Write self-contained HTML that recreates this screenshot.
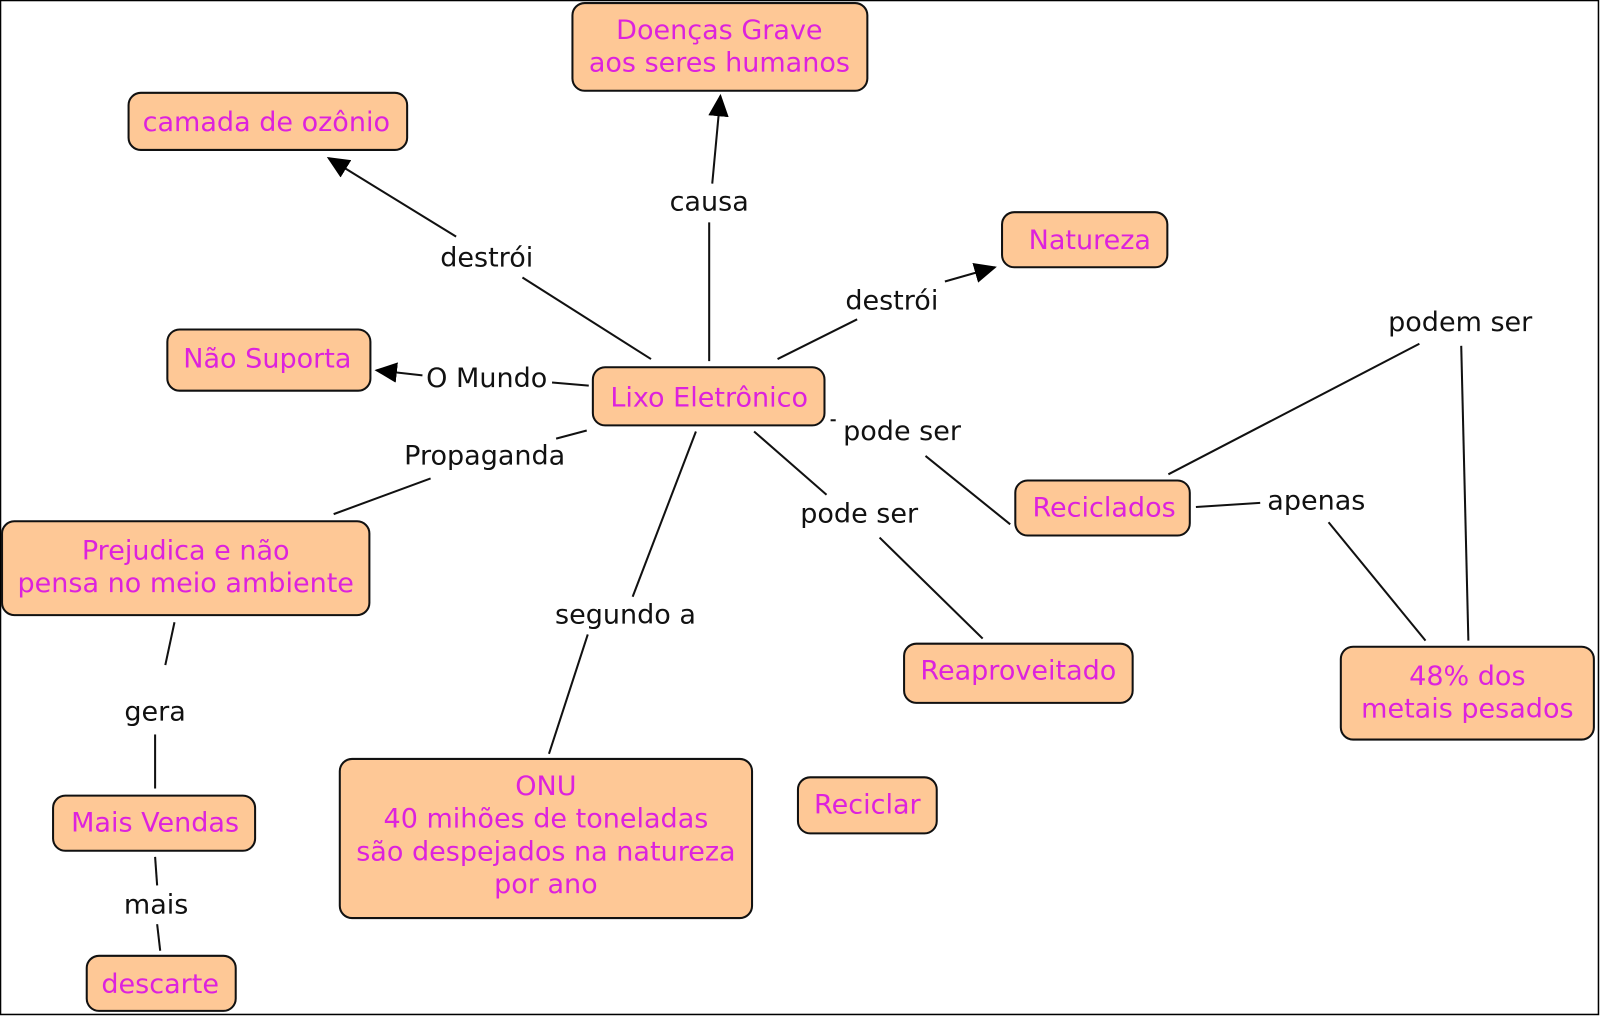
<!DOCTYPE html>
<html><head><meta charset="utf-8"><style>
html,body{margin:0;padding:0;background:#fff;}
svg{display:block;}
text{font-family:"DejaVu Sans","Liberation Sans",sans-serif;font-size:26.5px;text-anchor:middle;dominant-baseline:central;}
.n{fill:#dd22dd;}
.l{fill:#111;}
rect{fill:#fec896;stroke:#111;stroke-width:2;}
line{stroke:#111;stroke-width:2;}
</style></head><body>
<svg width="1600" height="1016" viewBox="0 0 1568 996" preserveAspectRatio="none" xmlns="http://www.w3.org/2000/svg">
<defs>
<marker id="b" markerWidth="22" markerHeight="20" refX="20" refY="10" orient="auto" markerUnits="userSpaceOnUse"><path d="M0,0 L22,10 L0,20 z" fill="#000"/></marker></defs>
<rect x="0.5" y="0.5" width="1566" height="994" style="fill:none;stroke:#000;stroke-width:1.5" rx="0"/>
<line x1="695" y1="354" x2="695" y2="218"/>
<line x1="698" y1="180" x2="706" y2="94" marker-end="url(#b)"/>
<line x1="638" y1="352" x2="512" y2="272"/>
<line x1="447" y1="232" x2="322" y2="155" marker-end="url(#b)"/>
<line x1="762" y1="352" x2="840" y2="313"/>
<line x1="926" y1="276" x2="975" y2="262" marker-end="url(#b)"/>
<line x1="577" y1="378" x2="541" y2="375"/>
<line x1="414" y1="368" x2="369" y2="363" marker-end="url(#b)"/>
<line x1="575" y1="422" x2="545" y2="430"/>
<line x1="422" y1="469" x2="327" y2="504"/>
<line x1="814" y1="412" x2="819" y2="412"/>
<line x1="907" y1="447" x2="990" y2="514"/>
<line x1="739" y1="423" x2="810" y2="485"/>
<line x1="862" y1="527" x2="963" y2="626"/>
<line x1="682" y1="423" x2="620" y2="585"/>
<line x1="576" y1="622" x2="538" y2="739"/>
<line x1="1391" y1="337" x2="1145" y2="465"/>
<line x1="1432" y1="339" x2="1439" y2="628"/>
<line x1="1172" y1="497" x2="1235" y2="493"/>
<line x1="1302" y1="512" x2="1397" y2="628"/>
<line x1="171" y1="610" x2="162" y2="652"/>
<line x1="152" y1="720" x2="152" y2="773"/>
<line x1="152" y1="840" x2="154" y2="868"/>
<line x1="154" y1="906" x2="157" y2="932"/>
<rect x="561" y="3" width="289" height="86" rx="12"/>
<text class="n" x="705" y="30">Doenças Grave</text><text class="n" x="705" y="62">aos seres humanos</text>
<rect x="126" y="91" width="273" height="56" rx="12"/><text class="n" x="261" y="120">camada de ozônio</text>
<rect x="982" y="208" width="162" height="54" rx="12"/><text class="n" x="1068" y="236">Natureza</text>
<rect x="164" y="323" width="199" height="60" rx="12"/><text class="n" x="262" y="352">Não Suporta</text>
<rect x="581" y="360" width="227" height="57" rx="12"/><text class="n" x="695" y="390">Lixo Eletrônico</text>
<rect x="995" y="471" width="171" height="54" rx="12"/><text class="n" x="1082" y="498">Reciclados</text>
<rect x="2" y="511" width="360" height="92" rx="12"/>
<text class="n" x="182" y="540">Prejudica e não</text><text class="n" x="182" y="572">pensa no meio ambiente</text>
<rect x="886" y="631" width="224" height="58" rx="12"/><text class="n" x="998" y="658">Reaproveitado</text>
<rect x="1314" y="634" width="248" height="91" rx="12"/>
<text class="n" x="1438" y="663">48% dos</text><text class="n" x="1438" y="695">metais pesados</text>
<rect x="333" y="744" width="404" height="156" rx="12"/>
<text class="n" x="535" y="771">ONU</text><text class="n" x="535" y="803">40 mihões de toneladas</text>
<text class="n" x="535" y="835">são despejados na natureza</text><text class="n" x="535" y="867">por ano</text>
<rect x="782" y="762" width="136" height="55" rx="12"/><text class="n" x="850" y="789">Reciclar</text>
<rect x="52" y="780" width="198" height="54" rx="12"/><text class="n" x="152" y="807">Mais Vendas</text>
<rect x="85" y="937" width="146" height="54" rx="12"/><text class="n" x="157" y="965">descarte</text>
<text class="l" x="695" y="198">causa</text>
<text class="l" x="477" y="253">destrói</text>
<text class="l" x="874" y="295">destrói</text>
<text class="l" x="477" y="371">O Mundo</text>
<text class="l" x="475" y="447">Propaganda</text>
<text class="l" x="884" y="423">pode ser</text>
<text class="l" x="842" y="504">pode ser</text>
<text class="l" x="613" y="603">segundo a</text>
<text class="l" x="1431" y="316">podem ser</text>
<text class="l" x="1290" y="491">apenas</text>
<text class="l" x="152" y="698">gera</text>
<text class="l" x="153" y="887">mais</text>
</svg>
</body></html>
